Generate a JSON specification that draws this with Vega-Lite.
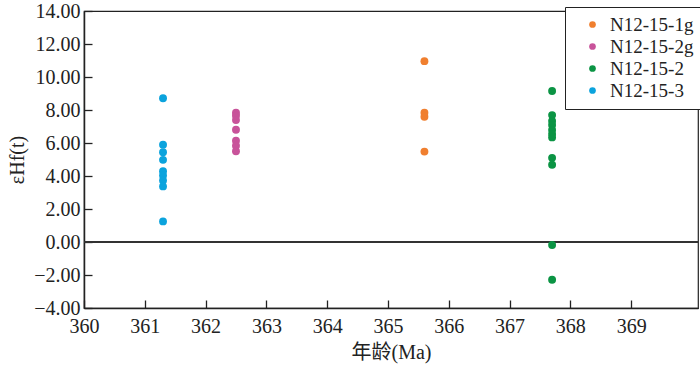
{
  "$schema": "https://vega.github.io/schema/vega-lite/v6.json",
  "width": 614,
  "height": 297,
  "padding": {"left": 84, "top": 11, "right": 2, "bottom": 59},
  "autosize": {"type": "none"},
  "background": "white",
  "config": {
    "font": "Liberation Serif",
    "view": {"stroke": "#222", "strokeWidth": 1.2},
    "axis": {
      "domainColor": "#222",
      "domainWidth": 1.5,
      "tickColor": "#222",
      "tickWidth": 1.3,
      "grid": false,
      "labelFont": "Liberation Serif",
      "labelFontSize": 20,
      "labelColor": "#222",
      "labelFlush": false,
      "labelOverlap": false,
      "titleFont": "Liberation Serif",
      "titleFontSize": 20,
      "titleFontWeight": "normal",
      "titleColor": "#222"
    }
  },
  "data": {
    "values": [
      {"age": 365.6, "eHf": 10.96, "sample": "N12-15-1g"},
      {"age": 365.6, "eHf": 7.84, "sample": "N12-15-1g"},
      {"age": 365.6, "eHf": 7.59, "sample": "N12-15-1g"},
      {"age": 365.6, "eHf": 5.48, "sample": "N12-15-1g"},
      {"age": 362.5, "eHf": 7.84, "sample": "N12-15-2g"},
      {"age": 362.5, "eHf": 7.65, "sample": "N12-15-2g"},
      {"age": 362.5, "eHf": 7.39, "sample": "N12-15-2g"},
      {"age": 362.5, "eHf": 6.8, "sample": "N12-15-2g"},
      {"age": 362.5, "eHf": 6.14, "sample": "N12-15-2g"},
      {"age": 362.5, "eHf": 5.84, "sample": "N12-15-2g"},
      {"age": 362.5, "eHf": 5.5, "sample": "N12-15-2g"},
      {"age": 367.7, "eHf": 9.15, "sample": "N12-15-2"},
      {"age": 367.7, "eHf": 7.69, "sample": "N12-15-2"},
      {"age": 367.7, "eHf": 7.34, "sample": "N12-15-2"},
      {"age": 367.7, "eHf": 7.09, "sample": "N12-15-2"},
      {"age": 367.7, "eHf": 6.79, "sample": "N12-15-2"},
      {"age": 367.7, "eHf": 6.54, "sample": "N12-15-2"},
      {"age": 367.7, "eHf": 6.34, "sample": "N12-15-2"},
      {"age": 367.7, "eHf": 5.1, "sample": "N12-15-2"},
      {"age": 367.7, "eHf": 4.68, "sample": "N12-15-2"},
      {"age": 367.7, "eHf": -0.18, "sample": "N12-15-2"},
      {"age": 367.7, "eHf": -2.29, "sample": "N12-15-2"},
      {"age": 361.3, "eHf": 8.71, "sample": "N12-15-3"},
      {"age": 361.3, "eHf": 5.9, "sample": "N12-15-3"},
      {"age": 361.3, "eHf": 5.44, "sample": "N12-15-3"},
      {"age": 361.3, "eHf": 4.98, "sample": "N12-15-3"},
      {"age": 361.3, "eHf": 4.29, "sample": "N12-15-3"},
      {"age": 361.3, "eHf": 4.03, "sample": "N12-15-3"},
      {"age": 361.3, "eHf": 3.73, "sample": "N12-15-3"},
      {"age": 361.3, "eHf": 3.37, "sample": "N12-15-3"},
      {"age": 361.3, "eHf": 1.25, "sample": "N12-15-3"}
    ]
  },
  "layer": [
    {
      "mark": {"type": "rule", "color": "#333", "strokeWidth": 1.3},
      "encoding": {"y": {"datum": 0, "type": "quantitative"}}
    },
    {
      "mark": {"type": "circle", "size": 62, "opacity": 1},
      "encoding": {
        "x": {
          "field": "age",
          "type": "quantitative",
          "scale": {"domain": [360, 370.1], "nice": false, "zero": false},
          "axis": {
            "title": "年龄(Ma)",
            "titleFont": "Liberation Serif, Noto Sans CJK SC",
            "values": [360, 361, 362, 363, 364, 365, 366, 367, 368, 369],
            "tickCount": 20,
            "format": "d",
            "tickSize": -8,
            "labelPadding": 16,
            "titlePadding": 6
          }
        },
        "y": {
          "field": "eHf",
          "type": "quantitative",
          "scale": {"domain": [-4, 14], "nice": false},
          "axis": {
            "title": "εHf(t)",
            "values": [-4, -2, 0, 2, 4, 6, 8, 10, 12, 14],
            "tickCount": 20,
            "format": ".2f",
            "tickSize": -8,
            "labelPadding": 12,
            "titlePadding": 6
          }
        },
        "color": {
          "field": "sample",
          "type": "nominal",
          "scale": {
            "domain": ["N12-15-1g", "N12-15-2g", "N12-15-2", "N12-15-3"],
            "range": ["#f07f2f", "#c8539a", "#0b9444", "#0ba3dd"]
          },
          "legend": {
            "title": null,
            "orient": "none",
            "legendX": 481,
            "legendY": -4,
            "strokeColor": "#222",
            "fillColor": "white",
            "padding": 8,
            "symbolOffset": 10,
            "symbolSize": 45,
            "symbolType": "circle",
            "labelFont": "Liberation Serif",
            "labelFontSize": 19,
            "labelColor": "#222",
            "labelOffset": 8,
            "rowPadding": 2
          }
        }
      }
    }
  ]
}
